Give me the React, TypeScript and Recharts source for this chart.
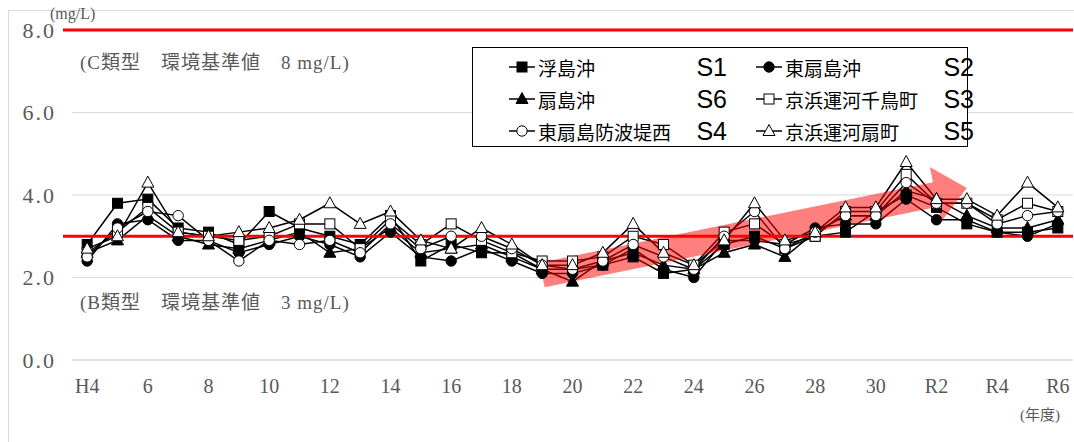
import React from 'react';
import { LineChart, Line, XAxis, YAxis, CartesianGrid, ReferenceLine } from 'recharts';

const categories = ['H4','5','6','7','8','9','10','11','12','13','14','15','16','17','18','19','20','21','22','23','24','25','26','27','28','29','30','R1','R2','R3','R4','R5','R6'];

const ukishimaOki = [2.8,3.8,3.9,3.2,3.1,2.8,3.6,3.2,3.0,2.8,3.5,2.4,2.8,2.6,2.6,2.2,2.2,2.3,2.5,2.1,2.2,2.8,3.0,2.7,3.0,3.1,3.6,4.0,3.7,3.3,3.1,3.1,3.2];
const higashiOgishimaOki = [2.4,3.3,3.4,2.9,2.9,2.6,2.8,3.0,2.8,2.5,3.1,2.5,2.4,2.7,2.4,2.1,2.1,2.3,2.7,2.2,2.0,2.9,2.9,2.8,3.2,3.3,3.3,3.9,3.4,3.4,3.1,3.0,3.3];
const ogishimaOki = [2.6,2.9,3.5,3.0,2.8,2.7,2.9,3.1,2.6,2.7,3.2,2.6,2.7,2.8,2.5,2.2,1.9,2.4,2.6,2.3,2.2,2.6,2.8,2.5,3.1,3.5,3.5,4.1,3.9,3.5,3.2,3.2,3.4];
const chidoricho = [2.6,3.1,3.7,3.1,3.0,2.9,3.0,3.3,3.3,2.7,3.4,2.8,3.3,2.9,2.6,2.4,2.4,2.5,3.0,2.8,2.3,3.1,3.3,2.8,3.0,3.6,3.6,4.5,3.8,3.8,3.4,3.8,3.6];
const bohateiNishi = [2.5,3.2,3.6,3.5,2.9,2.4,2.9,2.8,2.9,2.6,3.3,2.7,3.0,3.0,2.7,2.3,2.2,2.4,2.8,2.5,2.2,3.0,3.6,2.7,3.1,3.5,3.5,4.3,3.8,3.8,3.3,3.5,3.6];
const ogimachi = [2.7,3.0,4.3,3.1,3.0,3.1,3.2,3.4,3.8,3.3,3.6,2.9,2.7,3.2,2.8,2.3,2.3,2.6,3.3,2.6,2.3,2.9,3.8,2.9,3.1,3.7,3.7,4.8,3.9,3.9,3.5,4.3,3.7];

const yTicks = [0, 2, 4, 6, 8];
const standardC = 8;
const standardB = 3;
const arrowStart = { cat: '19', value: 2.06 };
const arrowEnd = { cat: 'R3', value: 4.17 };

type Shape = 'square' | 'circle' | 'triangle';
const series: { key: string; name: string; tag: string; shape: Shape; filled: boolean; values: number[] }[] = [
  { key: 's1', name: '浮島沖', tag: 'S1', shape: 'square', filled: true, values: ukishimaOki },
  { key: 's2', name: '東扇島沖', tag: 'S2', shape: 'circle', filled: true, values: higashiOgishimaOki },
  { key: 's6', name: '扇島沖', tag: 'S6', shape: 'triangle', filled: true, values: ogishimaOki },
  { key: 's3', name: '京浜運河千鳥町', tag: 'S3', shape: 'square', filled: false, values: chidoricho },
  { key: 's4', name: '東扇島防波堤西', tag: 'S4', shape: 'circle', filled: false, values: bohateiNishi },
  { key: 's5', name: '京浜運河扇町', tag: 'S5', shape: 'triangle', filled: false, values: ogimachi },
];

const data = categories.map((cat, i) => {
  const row: Record<string, any> = { cat };
  series.forEach((s) => { row[s.key] = s.values[i]; });
  return row;
});

function MarkerShape({ cx, cy, shape, filled }: { cx: number; cy: number; shape: Shape; filled: boolean }) {
  const fill = filled ? '#000' : '#fff';
  if (shape === 'square') return <rect x={cx - 5} y={cy - 5} width={10} height={10} fill={fill} stroke="#000" strokeWidth={1} />;
  if (shape === 'circle') return <circle cx={cx} cy={cy} r={5.2} fill={fill} stroke="#000" strokeWidth={1} />;
  return <polygon points={`${cx},${cy - 6.5} ${cx + 6},${cy + 4.5} ${cx - 6},${cy + 4.5}`} fill={fill} stroke="#000" strokeWidth={1} />;
}

const ArrowShape = (p: any) => {
  const { x1, y1, x2, y2 } = p;
  const dx = x2 - x1, dy = y2 - y1;
  const L = Math.sqrt(dx * dx + dy * dy);
  const ux = dx / L, uy = dy / L;
  const nx = -uy, ny = ux;
  const w = 12.5, H = 28, hl = 32;
  const bx = x2 - ux * hl, by = y2 - uy * hl;
  const pts = [
    [x1 + nx * w, y1 + ny * w],
    [bx + nx * w, by + ny * w],
    [bx + nx * H, by + ny * H],
    [x2, y2],
    [bx - nx * H, by - ny * H],
    [bx - nx * w, by - ny * w],
    [x1 - nx * w, y1 - ny * w],
  ].map((q) => q.join(',')).join(' ');
  return <polygon points={pts} fill="rgba(255,0,0,0.5)" stroke="none" />;
};

const RedLine = (p: any) => <line x1={p.x1 - 9} y1={p.y1} x2={p.x2} y2={p.y2} stroke="#ff0000" strokeWidth={3} />;

const serif = "'Liberation Serif', 'Noto Sans CJK JP', serif";
const gothic = "'Noto Sans CJK JP', 'Noto Sans', sans-serif";

function LegendBox() {
  const rows = [[series[0], series[1]], [series[2], series[3]], [series[4], series[5]]];
  return (
    <div style={{ position: 'absolute', left: 472, top: 47, width: 494, height: 98, border: '1px solid #000', background: '#fff' }}>
      {rows.map((row, ri) => row.map((s, ci) => (
        <div key={s.key} style={{ position: 'absolute', left: ci === 0 ? 36 : 283, top: 3 + ri * 32, height: 32, width: 218, display: 'flex', alignItems: 'center' }}>
          <svg width={26} height={16} style={{ flex: 'none' }}>
            <line x1={0} y1={8} x2={26} y2={8} stroke="#000" strokeWidth={1.5} />
            <MarkerShape cx={13} cy={8} shape={s.shape} filled={s.filled} />
          </svg>
          <span style={{ fontFamily: gothic, fontSize: 19, color: '#000', marginLeft: 3, whiteSpace: 'nowrap', lineHeight: 1 }}>{s.name}</span>
          <span style={{ position: 'absolute', right: 0, fontFamily: "'Liberation Sans', sans-serif", fontSize: 25, color: '#000', lineHeight: 1 }}>{s.tag}</span>
        </div>
      )))}
    </div>
  );
}

export default function App() {
  return (
    <div style={{ position: 'absolute', left: 0, top: 0, width: 1074, height: 442, background: '#fff', overflow: 'hidden' }}>
      <div style={{ position: 'absolute', left: 8, top: 10, width: 1080, height: 450, borderLeft: '1px solid #d9d9d9', borderTop: '1px solid #d9d9d9' }} />
      <LineChart width={1074} height={442} data={data} margin={{ top: 30, right: 1, bottom: 52, left: 0 }}>
        <CartesianGrid vertical={false} stroke="#d9d9d9" strokeWidth={1} />
        <XAxis dataKey="cat" scale="band" interval={1} tickLine={false} axisLine={{ stroke: '#d9d9d9' }} height={30}
          tick={{ fill: '#595959', fontSize: 20, fontFamily: serif }} tickMargin={13} />
        <YAxis domain={[0, 8]} ticks={yTicks} width={72} axisLine={false} tickLine={false} tickMargin={10}
          tick={{ fill: '#595959', fontSize: 22, fontFamily: serif, letterSpacing: 2 }} tickFormatter={(v: number) => v.toFixed(1)} />
        {series.map((s) => (
          <Line key={s.key} dataKey={s.key} name={s.name} stroke="#000" strokeWidth={1.5} isAnimationActive={false}
            dot={(p: any) => <MarkerShape key={`${s.key}-${p.index}`} cx={p.cx} cy={p.cy} shape={s.shape} filled={s.filled} />}
            activeDot={false} />
        ))}
        <ReferenceLine y={standardB} shape={RedLine} />
        <ReferenceLine y={standardC} shape={RedLine} />
        <ReferenceLine segment={[{ x: arrowStart.cat, y: arrowStart.value }, { x: arrowEnd.cat, y: arrowEnd.value }]} shape={ArrowShape} />
      </LineChart>
      <div style={{ position: 'absolute', left: 50, top: 6, fontFamily: serif, fontSize: 16, color: '#595959', lineHeight: 1 }}>(mg/L)</div>
      <div style={{ position: 'absolute', left: 80, top: 53, fontFamily: serif, fontSize: 19, letterSpacing: 1, color: '#595959', lineHeight: 1, whiteSpace: 'pre' }}>(C類型　環境基準値　8 mg/L)</div>
      <div style={{ position: 'absolute', left: 80, top: 293, fontFamily: serif, fontSize: 19, letterSpacing: 1, color: '#595959', lineHeight: 1, whiteSpace: 'pre' }}>(B類型　環境基準値　3 mg/L)</div>
      <div style={{ position: 'absolute', left: 1020, top: 408, fontFamily: serif, fontSize: 15, color: '#595959', lineHeight: 1 }}>(年度)</div>
      <LegendBox />
    </div>
  );
}
